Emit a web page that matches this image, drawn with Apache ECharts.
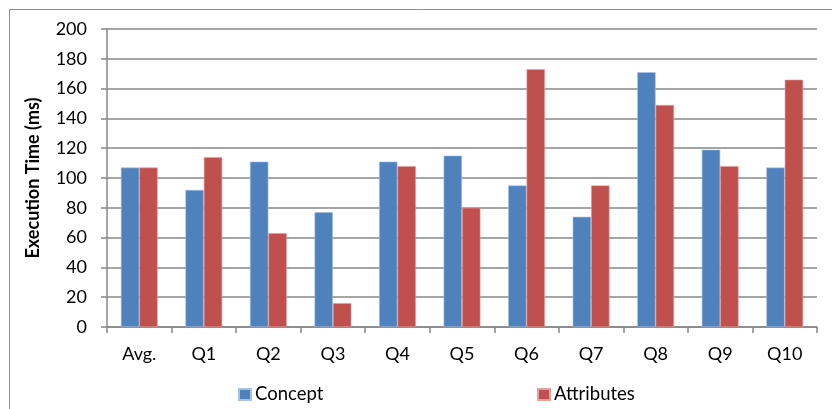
<!DOCTYPE html>
<html>
<head>
<meta charset="utf-8">
<style>
  html, body { margin: 0; padding: 0; background: #ffffff; }
  #chart { width: 832px; height: 409px; }
</style>
<script src="https://cdn.jsdelivr.net/npm/echarts@6/dist/echarts.min.js"></script>
</head>
<body>
<div id="chart"></div>
<script>
// Query execution times (ms) per query, concept-based vs attribute-based
const categories = ['Avg.', 'Q1', 'Q2', 'Q3', 'Q4', 'Q5', 'Q6', 'Q7', 'Q8', 'Q9', 'Q10'];
const conceptTimes = [107, 92, 111, 77, 111, 115, 95, 74, 171, 119, 107];
const attributeTimes = [107, 114, 63, 16, 108, 80, 173, 95, 149, 108, 166];
const yTicks = { min: 0, max: 200, step: 20 };

const FONT = 'Lato';
const GRID_GREY = '#878787';

const chart = echarts.init(document.getElementById('chart'), null, { renderer: 'canvas' });

chart.setOption({
  animation: false,
  backgroundColor: '#ffffff',
  textStyle: { fontFamily: FONT },
  graphic: [{
    type: 'rect',
    shape: { x: 9.5, y: 9.5, width: 900, height: 500 },
    style: { fill: 'none', stroke: '#8e8e8e', lineWidth: 1 },
    silent: true
  }],
  grid: { left: 107, right: 15, top: 29, bottom: 82 },
  legend: [{
    data: ['Concept'],
    left: 233, top: 380,
    itemWidth: 12, itemHeight: 11, itemGap: 6,
    icon: 'rect',
    textStyle: { fontFamily: FONT, fontSize: 18.5, color: '#000', padding: [0, 0, 0, -1] }
  }, {
    data: ['Attributes'],
    left: 532, top: 380,
    itemWidth: 12, itemHeight: 11, itemGap: 6,
    icon: 'rect',
    textStyle: { fontFamily: FONT, fontSize: 18.5, color: '#000', padding: [0, 0, 0, -1] }
  }],
  xAxis: {
    type: 'category',
    data: categories,
    boundaryGap: true,
    axisLine: { lineStyle: { color: GRID_GREY, width: 1.5 } },
    axisTick: { show: true, alignWithLabel: false, length: 6, lineStyle: { color: GRID_GREY, width: 1.5 } },
    axisLabel: { color: '#000', fontFamily: FONT, fontSize: 18, margin: 18 }
  },
  yAxis: {
    type: 'value',
    min: yTicks.min, max: yTicks.max, interval: yTicks.step,
    name: 'Execution Time (ms)',
    nameLocation: 'middle',
    nameGap: 65,
    nameRotate: 90,
    nameTextStyle: { color: '#000', fontFamily: FONT, fontSize: 18, fontWeight: 'bold' },
    axisLine: { show: true, lineStyle: { color: GRID_GREY, width: 1.5 } },
    axisTick: { show: true, inside: false, length: 6, lineStyle: { color: GRID_GREY, width: 1.5 } },
    axisLabel: { color: '#000', fontFamily: FONT, fontSize: 18, margin: 20 },
    splitLine: { show: true, lineStyle: { color: GRID_GREY, width: 1.5 } }
  },
  series: [{
    name: 'Concept',
    type: 'bar',
    data: conceptTimes,
    barGap: '0%',
    barCategoryGap: '43%',
    itemStyle: { color: '#4F81BD', borderColor: '#a9c1e0', borderWidth: 0.6 }
  }, {
    name: 'Attributes',
    type: 'bar',
    data: attributeTimes,
    itemStyle: { color: '#C0504D', borderColor: '#e2a09e', borderWidth: 0.6 }
  }]
});
</script>
</body>
</html>
